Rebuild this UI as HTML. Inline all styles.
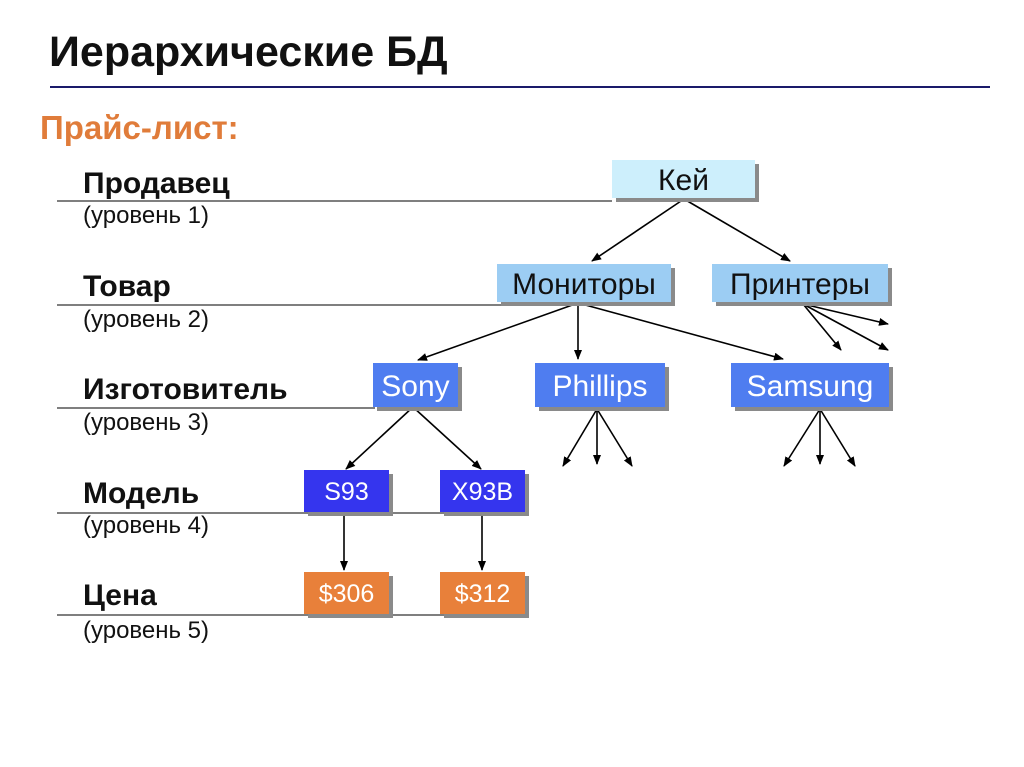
<!DOCTYPE html><html><head><meta charset="utf-8"><style>
body{margin:0;width:1024px;height:767px;background:#fff;position:relative;overflow:hidden;font-family:"Liberation Sans",Arial,sans-serif}
.t{position:absolute;white-space:nowrap;line-height:1}
.b{position:absolute;box-shadow:4px 4px 0 #8a8a8a;display:flex;align-items:center;justify-content:center;line-height:1;box-sizing:border-box;padding-top:3px}
.lv{font-weight:bold;font-size:30px;color:#111}
.sub{font-size:24px;color:#111}
</style></head><body>
<div class="t" style="left:49px;top:31px;font-size:43px;font-weight:bold;color:#111">Иерархические БД</div>
<div style="position:absolute;left:50px;top:86px;width:940px;height:2px;background:#1a1a6a"></div>
<div class="t" style="left:40px;top:111px;font-size:33px;font-weight:bold;color:#e07c3a">Прайс-лист:</div>

<div class="t lv" style="left:83px;top:169px">Продавец</div><div class="t sub" style="left:83px;top:204px">(уровень 1)</div>
<div class="t lv" style="left:83px;top:272px">Товар</div><div class="t sub" style="left:83px;top:308px">(уровень 2)</div>
<div class="t lv" style="left:83px;top:375px">Изготовитель</div><div class="t sub" style="left:83px;top:411px">(уровень 3)</div>
<div class="t lv" style="left:83px;top:479px">Модель</div><div class="t sub" style="left:83px;top:514px">(уровень 4)</div>
<div class="t lv" style="left:83px;top:581px">Цена</div><div class="t sub" style="left:83px;top:619px">(уровень 5)</div>

<svg style="position:absolute;left:0;top:0" width="1024" height="767">
<defs><marker id="a" markerWidth="10" markerHeight="8" refX="9" refY="4" orient="auto" markerUnits="userSpaceOnUse"><path d="M0,0 L10,4 L0,8 z" fill="#000"/></marker></defs>
<g stroke="#333" stroke-width="1.3">
<line x1="57" y1="201" x2="612" y2="201"/><line x1="57" y1="305" x2="512" y2="305"/>
<line x1="57" y1="408" x2="375" y2="408"/><line x1="57" y1="513" x2="480" y2="513"/>
<line x1="57" y1="615" x2="480" y2="615"/></g>
<g stroke="#000" stroke-width="1.6" marker-end="url(#a)">
<line x1="684" y1="199" x2="592" y2="261"/><line x1="684" y1="199" x2="790" y2="261"/>
<line x1="578" y1="303" x2="418" y2="360"/><line x1="578" y1="303" x2="578" y2="359"/><line x1="578" y1="303" x2="783" y2="359"/>
<line x1="803" y1="304" x2="888" y2="324"/><line x1="803" y1="304" x2="888" y2="350"/><line x1="803" y1="304" x2="841" y2="350"/>
<line x1="597" y1="409" x2="563" y2="466"/><line x1="597" y1="409" x2="597" y2="464"/><line x1="597" y1="409" x2="632" y2="466"/>
<line x1="820" y1="409" x2="784" y2="466"/><line x1="820" y1="409" x2="820" y2="464"/><line x1="820" y1="409" x2="855" y2="466"/>
<line x1="413" y1="407" x2="346" y2="469"/><line x1="413" y1="407" x2="481" y2="469"/>
<line x1="344" y1="513" x2="344" y2="570"/><line x1="482" y1="513" x2="482" y2="570"/>
</g></svg>

<div class="b" style="left:612px;top:160px;width:143px;height:38px;background:#cdeffc;font-size:30px;color:#111">Кей</div>
<div class="b" style="left:497px;top:264px;width:174px;height:38px;background:#9ccdf3;font-size:30px;color:#111">Мониторы</div>
<div class="b" style="left:712px;top:264px;width:176px;height:38px;background:#9ccdf3;font-size:30px;color:#111">Принтеры</div>
<div class="b" style="left:373px;top:363px;width:85px;height:44px;background:#4f7df0;font-size:30px;color:#fff">Sony</div>
<div class="b" style="left:535px;top:363px;width:130px;height:44px;background:#4f7df0;font-size:30px;color:#fff">Phillips</div>
<div class="b" style="left:731px;top:363px;width:158px;height:44px;background:#4f7df0;font-size:30px;color:#fff">Samsung</div>
<div class="b" style="left:304px;top:470px;width:85px;height:42px;background:#3535ee;font-size:25px;color:#fff">S93</div>
<div class="b" style="left:440px;top:470px;width:85px;height:42px;background:#3535ee;font-size:25px;color:#fff">X93B</div>
<div class="b" style="left:304px;top:572px;width:85px;height:42px;background:#e8803a;font-size:25px;color:#fff">$306</div>
<div class="b" style="left:440px;top:572px;width:85px;height:42px;background:#e8803a;font-size:25px;color:#fff">$312</div>
</body></html>
